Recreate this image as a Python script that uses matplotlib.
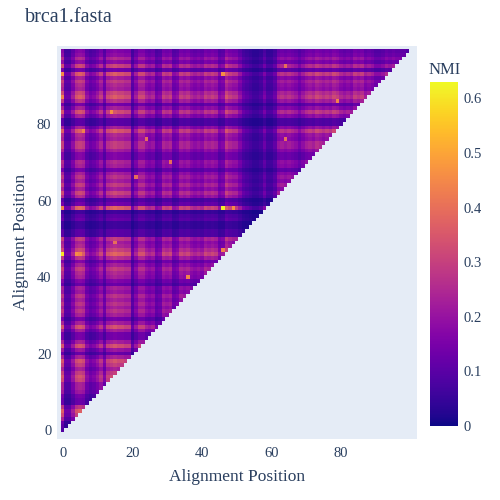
import numpy as np
import matplotlib
matplotlib.use("Agg")
import matplotlib.pyplot as plt
from matplotlib.colors import Normalize
from matplotlib.cm import ScalarMappable

# Per-position signal strength (rows = y position)
row_level = [
    0.20, 0.25, 0.30, 0.55, 0.75, 0.85, 0.65, 0.30, 0.30, 0.35,
    0.50, 0.55, 0.55, 0.75, 0.80, 0.70, 0.55, 0.70, 0.80, 0.55,
    0.30, 0.50, 0.80, 0.55, 0.35, 0.35, 0.55, 0.80, 0.55, 0.35,
    0.55, 0.65, 0.55, 0.65, 0.55, 0.65, 0.50, 0.55, 0.30, 0.40,
    0.55, 0.60, 0.70, 0.55, 0.40, 0.65, 0.90, 0.75, 0.60, 0.55,
    0.70, 0.25, 0.25, 0.15, 0.15, 0.30, 0.25, 0.15, 0.90, 0.35,
    0.25, 0.60, 0.75, 0.55, 0.70, 0.55, 0.65, 0.55, 0.35, 0.55,
    0.60, 0.40, 0.40, 0.55, 0.70, 0.70, 0.55, 0.60, 0.85, 0.55,
    0.25, 0.25, 0.55, 0.80, 0.55, 0.35, 0.65, 0.85, 0.75, 0.55,
    0.60, 0.70, 0.55, 0.85, 0.35, 0.75, 0.45, 0.60, 0.45, 0.40,
]
# columns = x position
col_level = [
    0.80, 0.30, 0.30, 0.50, 0.75, 0.80, 0.75, 0.45, 0.35, 0.40,
    0.50, 0.65, 0.40, 0.70, 0.75, 0.80, 0.75, 0.75, 0.70, 0.70,
    0.30, 0.50, 0.70, 0.70, 0.55, 0.50, 0.55, 0.35, 0.40, 0.65,
    0.60, 0.65, 0.40, 0.45, 0.65, 0.60, 0.65, 0.55, 0.50, 0.55,
    0.50, 0.65, 0.60, 0.65, 0.60, 0.40, 0.45, 0.75, 0.65, 0.60,
    0.60, 0.45, 0.30, 0.25, 0.20, 0.15, 0.15, 0.20, 0.35, 0.20,
    0.20, 0.30, 0.55, 0.60, 0.55, 0.60, 0.55, 0.50, 0.40, 0.50,
    0.60, 0.65, 0.60, 0.70, 0.65, 0.60, 0.65, 0.60, 0.70, 0.65,
    0.55, 0.50, 0.55, 0.50, 0.65, 0.60, 0.65, 0.50, 0.55, 0.50,
    0.40, 0.40, 0.45, 0.55, 0.50, 0.55, 0.50, 0.50, 0.50, 0.40,
]
# Individual bright cells: (x, y, NMI)
hot_x = [0, 4, 5, 46, 49, 46, 14, 64, 79, 64, 24, 31, 21, 36, 46, 15, 6, 0, 0, 0]
hot_y = [46, 46, 46, 58, 58, 93, 83, 95, 86, 76, 76, 70, 66, 40, 47, 49, 78, 93, 87, 58]
hot_v = [0.60, 0.46, 0.44, 0.62, 0.46, 0.46, 0.46, 0.40, 0.44, 0.40,
         0.40, 0.40, 0.40, 0.44, 0.44, 0.40, 0.44, 0.46, 0.44, 0.44]

VMAX = 0.63
n = len(row_level)
nmi = 0.54 * np.outer(row_level, col_level)
for x, y, v in zip(hot_x, hot_y, hot_v):
    nmi[y, x] = max(nmi[y, x], v)
# only the lower triangle (x <= y) is filled
nmi = np.ma.masked_where(np.triu(np.ones((n, n), bool), k=1), nmi)

TXT = "#2a3f5f"
plt.rcParams['font.family'] = ['Liberation Serif', 'DejaVu Serif']

fig = plt.figure(figsize=(5, 5), dpi=100)
ax = fig.add_axes([57/500, 1-439/500, 360/500, (439-45.7)/500])
ax.set_facecolor("#e5ecf6")
ax.imshow(nmi, cmap="plasma", vmin=0, vmax=VMAX, origin="lower",
          extent=(-0.5, n-0.5, -0.5, n-0.5), aspect="auto",
          interpolation="nearest")
ax.set_xlim(-1.65, 101.8)
ax.set_ylim(-2.33, 100.6)
for s in ax.spines.values():
    s.set_visible(False)
ax.set_xticks([0, 20, 40, 60, 80])
ax.set_yticks([0, 20, 40, 60, 80])
ax.tick_params(length=0, labelsize=10.5, colors=TXT)
ax.tick_params(axis='x', pad=6)
ax.tick_params(axis='y', pad=4)
ax.set_xlabel("Alignment Position", fontsize=12.5, color=TXT, labelpad=6)
ax.set_ylabel("Alignment Position", fontsize=12.5, color=TXT, labelpad=6)

fig.text(25/500, 1-18/500, "brca1.fasta", fontsize=14.5, color=TXT,
         va="center", ha="left")

cax = fig.add_axes([430/500, 1-426/500, 28/500, 344/500])
cb = fig.colorbar(ScalarMappable(Normalize(0, VMAX), cmap="plasma"), cax=cax)
cb.outline.set_visible(False)
cb.set_ticks([0, 0.1, 0.2, 0.3, 0.4, 0.5, 0.6])
cb.set_ticklabels(["0", "0.1", "0.2", "0.3", "0.4", "0.5", "0.6"])
cax.tick_params(length=0, labelsize=10.5, colors=TXT, pad=4)
fig.text(445/500, 1-70/500, "NMI", fontsize=12, color=TXT,
         ha="center", va="center")

fig.savefig("out.png", dpi=100)
